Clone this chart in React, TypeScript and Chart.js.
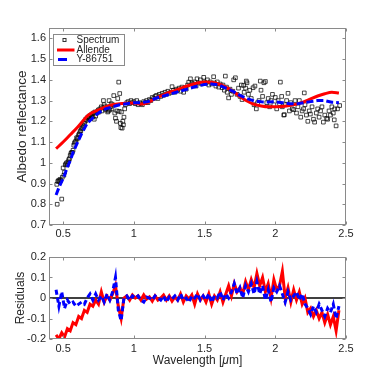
import React, { useEffect, useRef } from "react";
import { Chart, registerables } from "chart.js";
Chart.register(...registerables);

// ---------- data ----------
const xTicks = [0.5, 1, 1.5, 2, 2.5];
const xTickLabels = ["0.5", "1", "1.5", "2", "2.5"];
const topYTicks = [0.7, 0.8, 0.9, 1.0, 1.1, 1.2, 1.3, 1.4, 1.5, 1.6];
const topYTickLabels = ["0.7", "0.8", "0.9", "1", "1.1", "1.2", "1.3", "1.4", "1.5", "1.6"];
const resYTicks = [-0.2, -0.1, 0, 0.1, 0.2];
const resYTickLabels = ["-0.2", "-0.1", "0", "0.1", "0.2"];

const seriesNames = ["Spectrum", "Allende", "Y-86751"];

const spectrumX = [
  0.455, 0.458, 0.462, 0.468, 0.472, 0.478, 0.483, 0.49, 0.494, 0.5, 0.505, 0.51, 0.515, 0.52, 0.525, 0.53, 0.535, 0.54, 0.545, 0.55,
  0.555, 0.56, 0.565, 0.57, 0.575, 0.58, 0.585, 0.59, 0.595, 0.6, 0.605, 0.61, 0.615, 0.62, 0.625, 0.63, 0.635, 0.64, 0.645, 0.65,
  0.655, 0.66, 0.665, 0.67, 0.675, 0.68, 0.685, 0.69, 0.695, 0.7, 0.705, 0.71, 0.715, 0.72, 0.725, 0.73, 0.74, 0.745, 0.75, 0.755,
  0.76, 0.77, 0.775, 0.78, 0.785, 0.79, 0.795, 0.8, 0.805, 0.81, 0.815, 0.82, 0.825, 0.83, 0.835, 0.84, 0.845, 0.85, 0.858, 0.865,
  0.87, 0.877, 0.88, 0.886, 0.893, 0.896, 0.9, 0.905, 0.908, 0.912, 0.917, 0.922, 0.926, 0.93, 0.935, 0.94, 0.95, 0.96, 0.97, 0.98,
  0.99, 1.0, 1.01, 1.02, 1.03, 1.04, 1.05, 1.06, 1.07, 1.08, 1.09, 1.1, 1.11, 1.12, 1.13, 1.14, 1.15, 1.16, 1.17, 1.18,
  1.19, 1.2, 1.21, 1.22, 1.23, 1.24, 1.25, 1.26, 1.27, 1.28, 1.29, 1.3, 1.31, 1.32, 1.33, 1.34, 1.352, 1.364, 1.37, 1.38,
  1.388, 1.4, 1.41, 1.42, 1.43, 1.44, 1.447, 1.46, 1.47, 1.48, 1.494, 1.5, 1.51, 1.52, 1.53, 1.54, 1.55, 1.564, 1.57, 1.58,
  1.59, 1.6, 1.61, 1.624, 1.63, 1.64, 1.647, 1.655, 1.66, 1.67, 1.68, 1.69, 1.7, 1.706, 1.718, 1.73, 1.74, 1.75, 1.76, 1.765,
  1.776, 1.78, 1.79, 1.795, 1.8, 1.81, 1.82, 1.83, 1.843, 1.85, 1.856, 1.866, 1.875, 1.885, 1.894, 1.899, 1.91, 1.92, 1.93, 1.94,
  1.95, 1.96, 1.97, 1.98, 1.99, 2.0, 2.01, 2.02, 2.03, 2.036, 2.045, 2.05, 2.06, 2.064, 2.07, 2.08, 2.09, 2.1, 2.11, 2.12,
  2.13, 2.14, 2.15, 2.16, 2.17, 2.18, 2.19, 2.2, 2.205, 2.21, 2.22, 2.23, 2.24, 2.248, 2.26, 2.27, 2.278, 2.29, 2.3, 2.31,
  2.32, 2.33, 2.34, 2.35, 2.363, 2.37, 2.38, 2.39, 2.4, 2.41, 2.417, 2.42, 2.43, 2.44, 2.455,
];
const spectrumY = [
  0.896, 0.8, 0.91, 0.915, 0.91, 0.92, 0.915, 0.825, 0.93, 0.975, 0.94, 0.955, 0.99, 0.995, 1.0, 0.99, 1.005, 1.015, 1.02, 1.035,
  1.045, 1.05, 1.05, 1.06, 1.085, 1.095, 1.1, 1.105, 1.12, 1.115, 1.125, 1.135, 1.14, 1.15, 1.155, 1.165, 1.17, 1.18, 1.175, 1.19,
  1.2, 1.21, 1.205, 1.215, 1.22, 1.22, 1.225, 1.215, 1.23, 1.225, 1.235, 1.22, 1.24, 1.21, 1.245, 1.225, 1.24, 1.25, 1.255, 1.245,
  1.26, 1.27, 1.25, 1.265, 1.3, 1.28, 1.27, 1.255, 1.26, 1.27, 1.245, 1.25, 1.3, 1.255, 1.27, 1.285, 1.26, 1.28, 1.324, 1.24,
  1.215, 1.2, 1.25, 1.31, 1.389, 1.248, 1.334, 1.19, 1.17, 1.245, 1.167, 1.2, 1.183, 1.22, 1.26, 1.28, 1.29, 1.295, 1.285, 1.3,
  1.29, 1.295, 1.285, 1.3, 1.28, 1.29, 1.285, 1.28, 1.295, 1.29, 1.3, 1.29, 1.305, 1.3, 1.315, 1.31, 1.32, 1.325, 1.31, 1.33,
  1.32, 1.335, 1.325, 1.34, 1.33, 1.345, 1.335, 1.34, 1.367, 1.35, 1.34, 1.355, 1.35, 1.36, 1.345, 1.365, 1.34, 1.362, 1.355, 1.375,
  1.389, 1.405, 1.385, 1.38, 1.39, 1.37, 1.405, 1.385, 1.4, 1.38, 1.412, 1.39, 1.385, 1.4, 1.375, 1.39, 1.38, 1.415, 1.385, 1.37,
  1.39, 1.365, 1.38, 1.362, 1.375, 1.35, 1.418, 1.365, 1.34, 1.313, 1.355, 1.33, 1.345, 1.4, 1.41, 1.33, 1.36, 1.32, 1.375, 1.305,
  1.373, 1.34, 1.36, 1.394, 1.386, 1.33, 1.35, 1.31, 1.362, 1.28, 1.37, 1.26, 1.29, 1.3, 1.394, 1.35, 1.32, 1.386, 1.392, 1.29,
  1.31, 1.27, 1.3, 1.33, 1.28, 1.315, 1.26, 1.3, 1.285, 1.389, 1.32, 1.27, 1.23, 1.232, 1.28, 1.3, 1.335, 1.25, 1.29, 1.26,
  1.256, 1.3, 1.24, 1.27, 1.3, 1.22, 1.25, 1.26, 1.337, 1.28, 1.23, 1.2, 1.25, 1.235, 1.27, 1.21, 1.196, 1.24, 1.26, 1.22,
  1.25, 1.27, 1.196, 1.23, 1.214, 1.21, 1.25, 1.23, 1.27, 1.24, 1.207, 1.26, 1.178, 1.26, 1.276,
];

const allendeX = [
  0.45, 0.5, 0.55, 0.6, 0.65, 0.67, 0.7, 0.75, 0.8, 0.85, 0.9, 0.95, 1.0, 1.05, 1.1, 1.15, 1.2, 1.25, 1.3, 1.35, 1.4,
  1.45, 1.5, 1.55, 1.6, 1.65, 1.7, 1.75, 1.8, 1.85, 1.9, 1.95, 2.0, 2.05, 2.1, 2.15, 2.2, 2.25, 2.3, 2.35, 2.4, 2.45,
];
const allendeY = [
  1.068, 1.1, 1.135, 1.17, 1.21, 1.225, 1.24, 1.255, 1.27, 1.28, 1.285, 1.287, 1.288, 1.283, 1.29, 1.31, 1.325, 1.34, 1.35, 1.365, 1.375,
  1.385, 1.39, 1.388, 1.38, 1.365, 1.345, 1.32, 1.298, 1.282, 1.274, 1.27, 1.27, 1.272, 1.276, 1.283, 1.293, 1.308, 1.322, 1.333, 1.34, 1.336,
];

const y86751X = [
  0.45, 0.47, 0.49, 0.51, 0.53, 0.55, 0.57, 0.59, 0.61, 0.63, 0.65, 0.67, 0.7, 0.73, 0.76, 0.8, 0.85, 0.9, 0.95, 1.0, 1.05,
  1.1, 1.15, 1.2, 1.25, 1.3, 1.35, 1.4, 1.45, 1.5, 1.55, 1.6, 1.65, 1.7, 1.75, 1.8, 1.85, 1.9, 1.95, 2.0, 2.05, 2.1,
  2.15, 2.2, 2.25, 2.3, 2.35, 2.4, 2.45,
];
const y86751Y = [
  0.845, 0.88, 0.91, 0.94, 0.98, 1.01, 1.05, 1.08, 1.11, 1.14, 1.165, 1.19, 1.21, 1.23, 1.245, 1.26, 1.27, 1.28, 1.285, 1.29, 1.29,
  1.295, 1.31, 1.32, 1.33, 1.34, 1.35, 1.36, 1.37, 1.378, 1.38, 1.375, 1.36, 1.345, 1.325, 1.31, 1.298, 1.294, 1.293, 1.294, 1.29, 1.285,
  1.284, 1.29, 1.295, 1.3, 1.3, 1.292, 1.29,
];

const resX = [
  0.45, 0.47, 0.49, 0.51, 0.53, 0.55, 0.57, 0.59, 0.61, 0.63, 0.65, 0.67, 0.69, 0.71, 0.73, 0.75, 0.77, 0.79, 0.81, 0.83,
  0.85, 0.87, 0.89, 0.91, 0.93, 0.95, 0.97, 0.99, 1.01, 1.03, 1.05, 1.07, 1.09, 1.11, 1.13, 1.15, 1.17, 1.19, 1.21, 1.23,
  1.25, 1.27, 1.29, 1.31, 1.33, 1.35, 1.37, 1.39, 1.41, 1.43, 1.45, 1.47, 1.49, 1.51, 1.53, 1.55, 1.57, 1.59, 1.61, 1.63,
  1.65, 1.67, 1.69, 1.71, 1.73, 1.75, 1.77, 1.79, 1.81, 1.83, 1.85, 1.87, 1.89, 1.91, 1.93, 1.95, 1.97, 1.99, 2.01, 2.03,
  2.05, 2.07, 2.09, 2.11, 2.13, 2.15, 2.17, 2.19, 2.21, 2.23, 2.25, 2.27, 2.29, 2.31, 2.33, 2.35, 2.37, 2.39, 2.41, 2.43, 2.45,
];
const resAllende = [
  -0.18, -0.2, -0.17, -0.19, -0.15, -0.16, -0.12, -0.13, -0.09, -0.1, -0.06, -0.07, -0.03, -0.04, -0.01, -0.03, 0.03, -0.02, 0.01, -0.01,
  0.02, 0.06, -0.04, -0.1, 0.0, 0.01, -0.01, 0.015, 0.0, 0.01, -0.01, 0.015, -0.005, 0.005, -0.015, 0.01, -0.01, 0.0, 0.015, -0.01,
  0.01, -0.015, 0.005, -0.01, 0.02, -0.02, 0.01, -0.005, 0.015, -0.03, 0.02, -0.01, 0.01, -0.02, 0.02, -0.03, 0.01, -0.01, 0.03, -0.02,
  0.02, 0.06, 0.01, 0.07, 0.03, 0.05, 0.02, 0.08, 0.04, 0.09, 0.05, 0.12, 0.06, 0.1, 0.03, 0.07, 0.0, 0.09, 0.04, 0.06,
  0.13, 0.0, 0.05, -0.02, 0.04, -0.01, 0.03, -0.03, 0.0, -0.07, -0.05, -0.09, -0.06, -0.1, -0.07, -0.12, -0.08, -0.13, -0.09, -0.16, -0.06,
];
const resY86751 = [
  0.04, -0.04, 0.03, -0.05, -0.01, -0.03, -0.02, -0.04, -0.03, -0.02, -0.03, 0.0, 0.02, -0.01, 0.02, -0.01, 0.01, -0.02, 0.02, -0.01,
  0.03, 0.1, -0.06, -0.11, 0.0, 0.01, -0.01, 0.01, 0.0, 0.01, -0.01, -0.02, 0.005, 0.0, -0.01, 0.01, 0.0, -0.01, 0.01, -0.02,
  0.005, -0.005, 0.01, -0.01, 0.02, -0.01, 0.0, -0.02, 0.01, 0.0, 0.02, -0.01, 0.01, -0.01, 0.02, -0.02, 0.01, 0.0, 0.03, -0.01,
  0.02, 0.0, 0.03, 0.07, 0.02, 0.05, 0.0, 0.06, 0.03, 0.07, 0.02, 0.08, 0.02, 0.06, -0.01, 0.04, -0.02, 0.05, 0.03, 0.06,
  0.02, -0.02, 0.03, -0.01, 0.01, 0.03, -0.01, 0.02, -0.03, -0.05, -0.08, -0.04, -0.07, -0.03, -0.06, -0.09, -0.05, -0.07, -0.03, -0.1, -0.04,
];
const zeroLineX = [0.4, 2.5];
const zeroLineY = [0, 0];

// ---------- styling ----------
const FONT = "'Liberation Sans', Arial, Helvetica, sans-serif";
const TEXT = "#262626";
const AXIS = "#8a8a8a";
const RED = "#ff0000";
const BLUE = "#0000ff";
const XMIN = 0.4;
const XMAX = 2.5;

const pairs = (xs: number[], ys: number[]) => xs.map((x, i) => ({ x, y: ys[i] }));

const boxPlugin = (yTicks: number[]) => ({
  id: "matlabBox",
  afterDatasetsDraw(chart: any) {
    const { ctx, chartArea: a, scales } = chart;
    const xs = scales.x;
    const ys = scales.y;
    const L = Math.round(a.left) + 0.5;
    const R = Math.round(a.right) - 0.5;
    const T = Math.round(a.top) + 0.5;
    const B = Math.round(a.bottom) - 0.5;
    ctx.save();
    ctx.strokeStyle = AXIS;
    ctx.lineWidth = 1;
    ctx.strokeRect(L, T, R - L, B - T);
    const tl = 3;
    ctx.beginPath();
    xTicks.forEach((v) => {
      const px = Math.round(xs.getPixelForValue(v)) + 0.5;
      ctx.moveTo(px, B);
      ctx.lineTo(px, B - tl);
      ctx.moveTo(px, T);
      ctx.lineTo(px, T + tl);
    });
    yTicks.forEach((v) => {
      const py = Math.round(ys.getPixelForValue(v)) + 0.5;
      ctx.moveTo(L, py);
      ctx.lineTo(L + tl, py);
      ctx.moveTo(R, py);
      ctx.lineTo(R - tl, py);
    });
    ctx.stroke();
    ctx.restore();
  },
});

const legendPlugin = {
  id: "insideLegend",
  afterDraw(chart: any) {
    const { ctx, chartArea: a } = chart;
    const bx = Math.round(a.left) + 4.5;
    const by = Math.round(a.top) + 6.5;
    const bw = 71;
    const bh = 31;
    ctx.save();
    ctx.fillStyle = "#ffffff";
    ctx.fillRect(bx, by, bw, bh);
    ctx.strokeStyle = AXIS;
    ctx.lineWidth = 1;
    ctx.strokeRect(bx, by, bw, bh);
    const rows = [by + 5.5, by + 15.5, by + 25];
    const sx0 = bx + 3.5;
    const sx1 = bx + 21;
    const tx = bx + 23;
    ctx.strokeStyle = "rgba(0,0,0,0.8)";
    ctx.lineWidth = 1;
    ctx.strokeRect(bx + 9.5, rows[0] - 1.5, 3, 3);
    ctx.strokeStyle = RED;
    ctx.lineWidth = 3;
    ctx.beginPath();
    ctx.moveTo(sx0, rows[1]);
    ctx.lineTo(sx1, rows[1]);
    ctx.stroke();
    ctx.strokeStyle = BLUE;
    ctx.beginPath();
    ctx.moveTo(sx0 + 1, rows[2]);
    ctx.lineTo(sx0 + 10, rows[2]);
    ctx.stroke();
    ctx.fillStyle = TEXT;
    ctx.font = `10px ${FONT}`;
    ctx.textBaseline = "middle";
    ctx.textAlign = "left";
    seriesNames.forEach((n, i) => ctx.fillText(n, tx, rows[i]));
    ctx.restore();
  },
};

const xTitlePlugin = {
  id: "xTitle",
  afterDraw(chart: any) {
    const { ctx, chartArea: a } = chart;
    const cx = (a.left + a.right) / 2;
    const cy = a.bottom + 22;
    const p1 = "Wavelength [";
    const p2 = "\u03bc";
    const p3 = "m]";
    ctx.save();
    ctx.fillStyle = TEXT;
    ctx.textBaseline = "middle";
    ctx.textAlign = "left";
    const nf = `12px ${FONT}`;
    const itf = `italic 12px ${FONT}`;
    ctx.font = nf;
    const w1 = ctx.measureText(p1).width;
    const w3 = ctx.measureText(p3).width;
    ctx.font = itf;
    const w2 = ctx.measureText(p2).width;
    let x = cx - (w1 + w2 + w3) / 2;
    ctx.font = nf;
    ctx.fillText(p1, x, cy);
    x += w1;
    ctx.font = itf;
    ctx.fillText(p2, x, cy);
    x += w2;
    ctx.font = nf;
    ctx.fillText(p3, x, cy);
    ctx.restore();
  },
};

const tickFont = { family: FONT, size: 11 };

const makeX = (height: number, pad: number) => ({
  type: "linear",
  min: XMIN,
  max: XMAX,
  grid: { display: false, drawTicks: false },
  border: { display: false },
  afterBuildTicks: (s: any) => {
    s.ticks = xTicks.map((v) => ({ value: v }));
  },
  afterFit: (s: any) => {
    s.height = height;
  },
  ticks: {
    padding: pad,
    font: tickFont,
    color: TEXT,
    maxRotation: 0,
    autoSkip: false,
    callback: (v: number) => {
      const i = xTicks.indexOf(v);
      return i >= 0 ? xTickLabels[i] : "";
    },
  },
});

const makeY = (
  min: number,
  max: number,
  vals: number[],
  labels: string[],
  title: string,
  titleSize: number,
  titlePad: number
) => ({
  type: "linear",
  min,
  max,
  grid: { display: false, drawTicks: false },
  border: { display: false },
  afterBuildTicks: (s: any) => {
    s.ticks = vals.map((v) => ({ value: v }));
  },
  afterFit: (s: any) => {
    s.width = 49;
  },
  ticks: {
    padding: 3,
    font: tickFont,
    color: TEXT,
    autoSkip: false,
    callback: (v: number) => {
      const i = vals.findIndex((t) => Math.abs(t - v) < 1e-9);
      return i >= 0 ? labels[i] : "";
    },
  },
  title: {
    display: true,
    text: title,
    color: TEXT,
    font: { family: FONT, size: titleSize },
    padding: { top: titlePad, bottom: 0 },
  },
});

export default function App() {
  const topRef = useRef<HTMLCanvasElement | null>(null);
  const botRef = useRef<HTMLCanvasElement | null>(null);

  useEffect(() => {
    document.body.style.margin = "0";
    const top = new Chart(topRef.current as HTMLCanvasElement, {
      type: "scatter",
      data: {
        datasets: [
          {
            label: seriesNames[2],
            data: pairs(y86751X, y86751Y),
            showLine: true,
            borderColor: BLUE,
            borderWidth: 3,
            borderDash: [7, 3],
            pointRadius: 0,
            order: 0,
          },
          {
            label: seriesNames[1],
            data: pairs(allendeX, allendeY),
            showLine: true,
            borderColor: RED,
            borderWidth: 3,
            pointRadius: 0,
            cubicInterpolationMode: "monotone",
            order: 1,
          },
          {
            label: seriesNames[0],
            data: pairs(spectrumX, spectrumY),
            showLine: false,
            pointStyle: "rect",
            pointRadius: 2.6,
            borderWidth: 0.9,
            borderColor: "rgba(0,0,0,0.8)",
            backgroundColor: "rgba(255,255,255,0)",
            order: 2,
          },
        ] as any,
      },
      options: {
        animation: false,
        responsive: false,
        devicePixelRatio: 1,
        layout: { padding: { left: 0, right: 36, top: 28, bottom: 0 } },
        plugins: { legend: { display: false }, tooltip: { enabled: false } },
        scales: {
          x: makeX(15, 2) as any,
          y: makeY(0.7, 1.65, topYTicks, topYTickLabels, "Albedo reflectance", 13.5, 14) as any,
        },
      },
      plugins: [boxPlugin(topYTicks), legendPlugin],
    });

    const bot = new Chart(botRef.current as HTMLCanvasElement, {
      type: "scatter",
      data: {
        datasets: [
          {
            label: seriesNames[2],
            data: pairs(resX, resY86751),
            showLine: true,
            borderColor: BLUE,
            borderWidth: 3,
            borderDash: [5, 3],
            pointRadius: 0,
            order: 0,
          },
          {
            label: seriesNames[1],
            data: pairs(resX, resAllende),
            showLine: true,
            borderColor: RED,
            borderWidth: 3,
            pointRadius: 0,
            order: 1,
          },
          {
            label: "zero",
            data: pairs(zeroLineX, zeroLineY),
            showLine: true,
            borderColor: "#000000",
            borderWidth: 1.5,
            pointRadius: 0,
            order: 2,
          },
        ] as any,
      },
      options: {
        animation: false,
        responsive: false,
        devicePixelRatio: 1,
        layout: { padding: { left: 0, right: 36, top: 17, bottom: 0 } },
        plugins: { legend: { display: false }, tooltip: { enabled: false } },
        scales: {
          x: makeX(43, 3) as any,
          y: makeY(-0.2, 0.2, resYTicks, resYTickLabels, "Residuals", 12, 13) as any,
        },
      },
      plugins: [boxPlugin(resYTicks), xTitlePlugin],
    });

    return () => {
      top.destroy();
      bot.destroy();
    };
  }, []);

  return (
    <div style={{ position: "absolute", left: 0, top: 0, width: 382, height: 382, background: "#ffffff" }}>
      <canvas ref={topRef} width={382} height={240} style={{ position: "absolute", left: 0, top: 0 }} />
      <canvas ref={botRef} width={382} height={142} style={{ position: "absolute", left: 0, top: 240 }} />
    </div>
  );
}
